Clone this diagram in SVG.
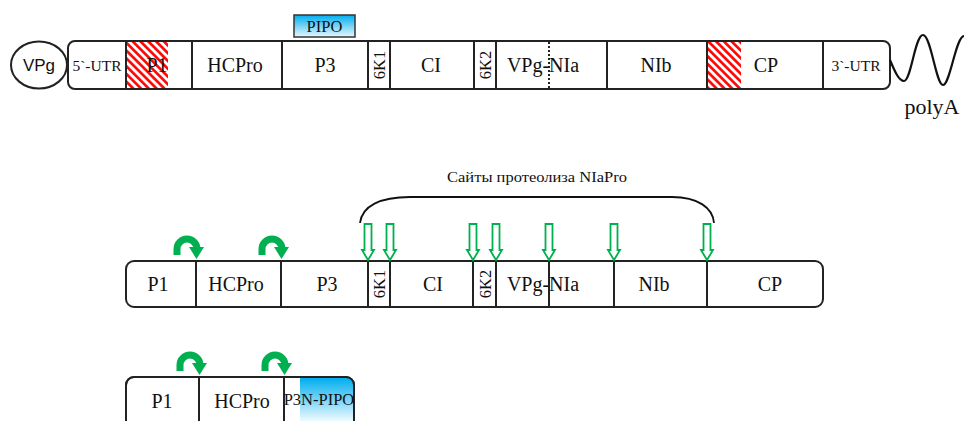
<svg xmlns="http://www.w3.org/2000/svg" width="966" height="421" viewBox="0 0 966 421">
  <defs>
    <pattern id="hatch" patternUnits="userSpaceOnUse" width="5.5" height="5.5" patternTransform="rotate(45)">
      <rect width="5.5" height="5.5" fill="#fff"/>
      <line x1="0" y1="1.4" x2="5.5" y2="1.4" stroke="#ff0000" stroke-width="2.6"/>
    </pattern>
    <linearGradient id="pipoGrad" x1="0" y1="0" x2="0" y2="1">
      <stop offset="0" stop-color="#00aeef"/>
      <stop offset="1" stop-color="#e8f8fe"/>
    </linearGradient>
    <linearGradient id="p3nGrad" gradientUnits="userSpaceOnUse" x1="0" y1="378" x2="0" y2="424">
      <stop offset="0" stop-color="#00aeef"/>
      <stop offset="1" stop-color="#ffffff"/>
    </linearGradient>
    <clipPath id="bottomBarClip">
      <rect x="126" y="377" width="228" height="52" rx="8"/>
    </clipPath>
    <!-- curved green arrow, tip at origin -->
    <g id="curlArrow">
      <path d="M-19,-4 L-19,-10 A10,10 0 0 1 1,-10" fill="none" stroke="#00b050" stroke-width="7"/>
      <polygon points="-7,-12 8,-12 0.5,0" fill="#00b050"/>
    </g>
    <!-- hollow cleavage-site arrow, tip at origin -->
    <polygon id="siteArrow" points="-3.5,-36 3.5,-36 3.5,-10 6,-10 0,0 -6,-10 -3.5,-10" fill="#fff" stroke="#00b050" stroke-width="1.8" stroke-linejoin="miter"/>
  </defs>
  <style>
    .bar { fill: #fff; stroke: #222; stroke-width: 2; }
    .div { stroke: #222; stroke-width: 2; }
    .serif { font-family: "Liberation Serif", "Times New Roman", serif; fill: #111; text-anchor: middle; }
    .lbl { font-size: 20px; }
    .utr { font-size: 15.5px; }
    .small { font-size: 16.5px; }
    .sans { font-family: "Liberation Sans", Arial, sans-serif; fill: #111; text-anchor: middle; }
  </style>

  <rect width="966" height="421" fill="#fff"/>

  <!-- Genome RNA -->
  <g id="genome">
    <g id="vpg">
      <ellipse cx="39" cy="65" rx="28" ry="23.5" fill="#fff" stroke="#222" stroke-width="2"/>
      <text class="sans" x="39" y="71" font-size="17">VPg</text>
    </g>
    <g id="pipo">
      <rect x="294" y="15" width="61" height="22" fill="url(#pipoGrad)" stroke="#333" stroke-width="1.5"/>
      <text class="serif" x="324.5" y="32" font-size="16.5">PIPO</text>
    </g>
    <g id="genomeBar">
      <rect class="bar" x="68" y="41" width="822" height="48" rx="7"/>
      <rect x="127" y="42" width="41" height="46" fill="url(#hatch)"/>
      <rect x="708" y="42" width="33" height="46" fill="url(#hatch)"/>
      <line class="div" x1="126" y1="41" x2="126" y2="89"/>
      <line class="div" x1="192" y1="41" x2="192" y2="89"/>
      <line class="div" x1="282" y1="41" x2="282" y2="89"/>
      <line class="div" x1="368" y1="41" x2="368" y2="89"/>
      <line class="div" x1="390" y1="41" x2="390" y2="89"/>
      <line class="div" x1="474" y1="41" x2="474" y2="89"/>
      <line class="div" x1="496" y1="41" x2="496" y2="89"/>
      <line x1="549" y1="42" x2="549" y2="88" stroke="#222" stroke-width="2" stroke-dasharray="2,2"/>
      <line class="div" x1="607" y1="41" x2="607" y2="89"/>
      <line class="div" x1="707" y1="41" x2="707" y2="89"/>
      <line class="div" x1="823" y1="41" x2="823" y2="89"/>
      <text class="serif utr" x="97" y="71">5`-UTR</text>
      <text class="serif lbl" x="157" y="72">P1</text>
      <text class="serif lbl" x="235" y="72">HCPro</text>
      <text class="serif lbl" x="325" y="72">P3</text>
      <text class="serif small" transform="translate(384.5,65) rotate(-90)">6K1</text>
      <text class="serif lbl" x="431" y="72">CI</text>
      <text class="serif small" transform="translate(490.5,65) rotate(-90)">6K2</text>
      <text class="serif lbl" x="543" y="72">VPg-NIa</text>
      <text class="serif lbl" x="656" y="72">NIb</text>
      <text class="serif lbl" x="766" y="72">CP</text>
      <text class="serif utr" x="856" y="71">3`-UTR</text>
    </g>
    <g id="polyA">
      <path d="M890,60 C895,72 899,81 904,81 C911,81 915,35 923,35 C931,35 936,85 943,85 C950,85 956,36 964,36" fill="none" stroke="#111" stroke-width="2.2"/>
      <text class="serif" x="932" y="114" font-size="22">polyA</text>
    </g>
  </g>

  <!-- Polyprotein -->
  <g id="polyprotein">
    <rect class="bar" x="126" y="261" width="697" height="46" rx="8"/>
    <line class="div" x1="196" y1="261" x2="196" y2="307"/>
    <line class="div" x1="281" y1="261" x2="281" y2="307"/>
    <line class="div" x1="368" y1="261" x2="368" y2="307"/>
    <line class="div" x1="390" y1="261" x2="390" y2="307"/>
    <line class="div" x1="473" y1="261" x2="473" y2="307"/>
    <line class="div" x1="496" y1="261" x2="496" y2="307"/>
    <line class="div" x1="549" y1="261" x2="549" y2="307"/>
    <line class="div" x1="614" y1="261" x2="614" y2="307"/>
    <line class="div" x1="707" y1="261" x2="707" y2="307"/>
    <text class="serif lbl" x="158" y="291">P1</text>
    <text class="serif lbl" x="236" y="291">HCPro</text>
    <text class="serif lbl" x="327" y="291">P3</text>
    <text class="serif small" transform="translate(384.5,284) rotate(-90)">6K1</text>
    <text class="serif lbl" x="433" y="291">CI</text>
    <text class="serif small" transform="translate(490.5,284) rotate(-90)">6K2</text>
    <text class="serif lbl" x="543" y="291">VPg-NIa</text>
    <text class="serif lbl" x="654" y="291">NIb</text>
    <text class="serif lbl" x="770" y="291">CP</text>
  </g>

  <!-- P3N-PIPO product -->
  <g id="p3nPipoProduct">
    <rect class="bar" x="126" y="377" width="228" height="52" rx="8"/>
    <rect x="300" y="377" width="56" height="50" fill="url(#p3nGrad)" clip-path="url(#bottomBarClip)"/>
    <rect x="126" y="377" width="228" height="52" rx="8" fill="none" stroke="#222" stroke-width="2"/>
    <line class="div" x1="199" y1="377" x2="199" y2="421"/>
    <line class="div" x1="284" y1="377" x2="284" y2="421"/>
    <text class="serif lbl" x="162" y="408">P1</text>
    <text class="serif lbl" x="242" y="408">HCPro</text>
    <text class="serif small" x="319" y="405">P3N-PIPO</text>
  </g>

  <!-- Connectors: autocatalytic cleavage and NIaPro cleavage sites -->
  <g id="connectors">
    <use href="#curlArrow" x="196" y="259"/>
    <use href="#curlArrow" x="281" y="259"/>
    <use href="#curlArrow" x="199" y="375"/>
    <use href="#curlArrow" x="284" y="375"/>

    <use href="#siteArrow" x="368" y="260"/>
    <use href="#siteArrow" x="390" y="260"/>
    <use href="#siteArrow" x="473" y="260"/>
    <use href="#siteArrow" x="496" y="260"/>
    <use href="#siteArrow" x="549" y="260"/>
    <use href="#siteArrow" x="614" y="260"/>
    <use href="#siteArrow" x="707" y="260"/>

    <path d="M360,223 C362,206 380,197 410,197 L672,197 C698,197 713,208 714,223" fill="none" stroke="#111" stroke-width="1.8"/>
    <text class="serif" x="537" y="182" font-size="15" textLength="180" lengthAdjust="spacingAndGlyphs">Сайты протеолиза NIaPro</text>
  </g>
</svg>
